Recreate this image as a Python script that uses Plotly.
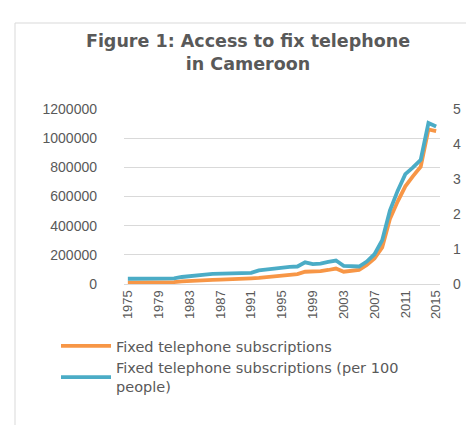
import plotly.graph_objects as go

years = list(range(1975, 2016))
fixed_subscriptions = [
    9000, 9000, 9500, 10000, 10000, 11000, 13000, 18000, 22000, 24000,
    26000, 28000, 30000, 31000, 33000, 36000, 39000, 42000, 48000, 52000,
    56000, 62000, 68000, 84000, 85000, 88000, 96000, 106000, 84000, 90000,
    96000, 130000, 175000, 250000, 445000, 565000, 670000, 740000, 805000,
    1060000, 1048000,
]
fixed_per_100 = [
    0.15, 0.15, 0.15, 0.15, 0.15, 0.15, 0.16, 0.20, 0.23, 0.25,
    0.27, 0.29, 0.30, 0.31, 0.31, 0.31, 0.32, 0.39, 0.42, 0.43,
    0.47, 0.49, 0.50, 0.62, 0.57, 0.58, 0.63, 0.67, 0.52, 0.50,
    0.50, 0.64, 0.85, 1.25, 2.10, 2.66, 3.14, 3.33, 3.55, 4.60, 4.50,
]
x_ticks = list(range(1975, 2016, 4))
left_ticks = [0, 200000, 400000, 600000, 800000, 1000000, 1200000]
right_ticks = [0, 1, 2, 3, 4, 5]

name1 = "Fixed telephone subscriptions"
name2 = "Fixed telephone subscriptions (per 100<br>people)"

grey = "#595959"
fig = go.Figure()
fig.add_trace(go.Scatter(x=years, y=fixed_subscriptions, mode="lines", name=name1,
                         line=dict(color="#F79646", width=3.8), yaxis="y",
                         legendgroup="a"))
fig.add_trace(go.Scatter(x=years, y=fixed_per_100, mode="lines", name=name2,
                         line=dict(color="#4BACC6", width=3.8), yaxis="y2",
                         legendgroup="b"))

W, H = 474, 425
L, R, T, B = 116, 42, 101, 149
pw, ph = W - L - R, H - T - B

def px(xp):
    return (xp - L) / pw

def py(yp):
    return (H - B - yp) / ph

fig.update_layout(
    width=W, height=H,
    margin=dict(l=L, r=R, t=T, b=B),
    paper_bgcolor="white", plot_bgcolor="white",
    font=dict(family="Liberation Sans, Arial", color=grey),
    title=dict(text="<b>Figure 1: Access to fix telephone<br>in Cameroon</b>",
               x=240 / W, xanchor="center", y=1 - 39 / H, yanchor="top",
               font=dict(size=17.5, color=grey, family="DejaVu Sans")),
    xaxis=dict(range=[1974.5, 2015.5], tickvals=x_ticks, ticktext=[str(v) for v in x_ticks],
               tickangle=-90, showgrid=False, showline=True, linecolor="#D9D9D9",
               ticks="", tickfont=dict(size=13, color=grey), zeroline=False),
    yaxis=dict(range=[0, 1200000], tickvals=left_ticks, tickformat="d",
               showgrid=True, gridcolor="#D9D9D9", gridwidth=1, zeroline=False,
               ticks="", tickfont=dict(size=14, color=grey), ticklabelstandoff=26),
    yaxis2=dict(range=[0, 5], tickvals=right_ticks, overlaying="y", side="right",
                showgrid=False, zeroline=False, ticks="",
                tickfont=dict(size=14, color=grey), ticklabelstandoff=12),
    legend=dict(x=px(48), y=py(322), xanchor="left", yanchor="top",
                orientation="v", traceorder="grouped", tracegroupgap=0,
                itemwidth=50,
                font=dict(size=14.5, color=grey, family="DejaVu Sans"),
                bgcolor="rgba(0,0,0,0)"),
    showlegend=True,
    shapes=[dict(type="rect", xref="paper", yref="paper",
                 x0=px(7), x1=px(472), y0=py(430), y1=py(15),
                 line=dict(color="#D9D9D9", width=1), fillcolor="rgba(0,0,0,0)",
                 layer="below")],
)

fig.write_html("out.html")
